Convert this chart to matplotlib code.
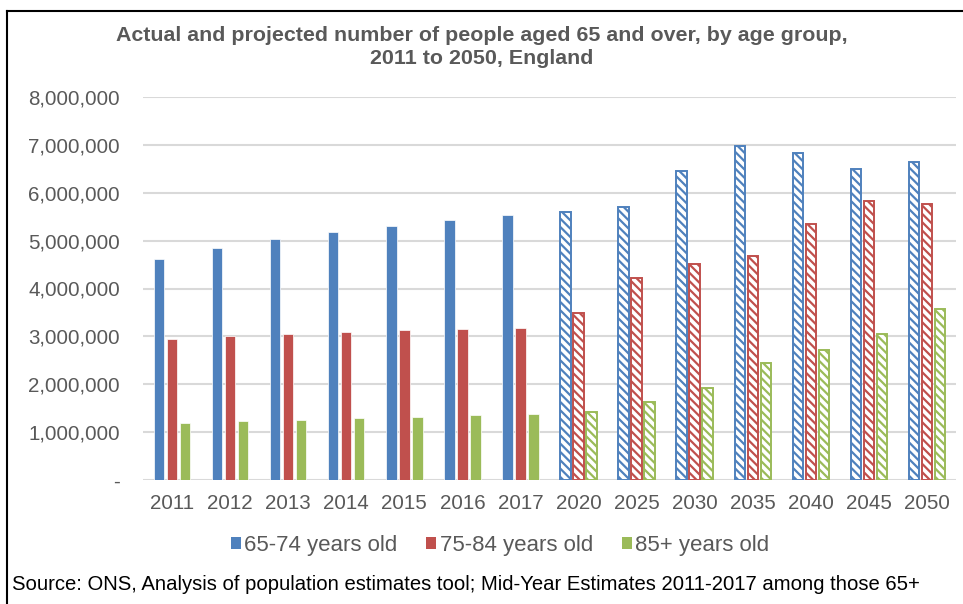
import numpy as np
import matplotlib
matplotlib.use("Agg")
import matplotlib.pyplot as plt
from matplotlib.patches import Patch
from matplotlib.ticker import FuncFormatter

years = ["2011", "2012", "2013", "2014", "2015", "2016", "2017",
         "2020", "2025", "2030", "2035", "2040", "2045", "2050"]
age_65_74 = [4.62, 4.85, 5.04, 5.18, 5.30, 5.43, 5.53,
             5.60, 5.70, 6.45, 6.97, 6.83, 6.50, 6.64]
age_75_84 = [2.95, 3.00, 3.04, 3.10, 3.13, 3.15, 3.18,
             3.49, 4.21, 4.51, 4.67, 5.35, 5.83, 5.76]
age_85_plus = [1.20, 1.23, 1.26, 1.30, 1.32, 1.35, 1.38,
               1.42, 1.63, 1.92, 2.45, 2.71, 3.04, 3.58]
n_actual = 7  # first 7 years are estimates, rest are projections

series = [
    ("65-74 years old", age_65_74, "#4F81BD"),
    ("75-84 years old", age_75_84, "#C0504D"),
    ("85+ years old", age_85_plus, "#9BBB59"),
]

plt.rcParams["font.family"] = ["Liberation Sans", "DejaVu Sans"]
plt.rcParams["hatch.linewidth"] = 1.6

fig = plt.figure(figsize=(9.63, 6.04), dpi=100)
ax = fig.add_axes([143 / 963, 124 / 604, 813 / 963, 383 / 604])

x = np.arange(len(years))
width = 0.18
step = 0.224
for i, (label, vals, color) in enumerate(series):
    vals = np.array(vals) * 1e6
    pos = x + (i - 1) * step
    ax.bar(pos[:n_actual], vals[:n_actual], width, color=color,
           edgecolor="white", linewidth=0.5, zorder=3)
    ax.bar(pos[n_actual:], vals[n_actual:], width, facecolor="white",
           edgecolor=color, linewidth=1.4, hatch="\\\\\\\\", zorder=3)

ax.set_xlim(-0.5, len(years) - 0.5)
ax.set_ylim(0, 8e6)
ax.set_yticks(np.arange(0, 8.1e6, 1e6))
ax.yaxis.set_major_formatter(FuncFormatter(lambda v, p: "-" if v == 0 else f"{int(v):,}"))
ax.set_xticks(x)
ax.set_xticklabels(years)
ax.grid(axis="y", color="#d9d9d9", linewidth=1.5, zorder=0)
for s in ax.spines.values():
    s.set_visible(False)
ax.tick_params(length=0, labelsize=14.8, labelcolor="#595959")
ax.tick_params(axis="y", pad=16.5)
ax.tick_params(axis="x", pad=10)

fig.text(0.5, 1 - 47 / 604,
         "Actual and projected number of people aged 65 and over, by age group,\n2011 to 2050, England",
         ha="center", va="center", fontsize=15.4, fontweight="bold",
         color="#595959", linespacing=1.28)

handles = [Patch(facecolor=c, label=l) for l, _, c in series]
fig.legend(handles=handles, loc="center", bbox_to_anchor=(500 / 963, 1 - 545 / 604),
           ncol=3, frameon=False, fontsize=16, handlelength=0.45, handleheight=0.45,
           handletextpad=0.15, columnspacing=1.3, labelcolor="#595959")

fig.text(12 / 963, 1 - 585 / 604,
         "Source: ONS, Analysis of population estimates tool; Mid-Year Estimates 2011-2017 among those 65+",
         ha="left", va="center", fontsize=14.6, color="black")

# frame lines (left and top) as in the cropped screenshot
fig.add_artist(plt.Line2D([7 / 963, 7 / 963], [0, 1 - 11 / 604], transform=fig.transFigure,
                          color="black", linewidth=1.5))
fig.add_artist(plt.Line2D([7 / 963, 1], [1 - 11 / 604, 1 - 11 / 604], transform=fig.transFigure,
                          color="black", linewidth=1.5))

fig.savefig("out.png", dpi=100)
